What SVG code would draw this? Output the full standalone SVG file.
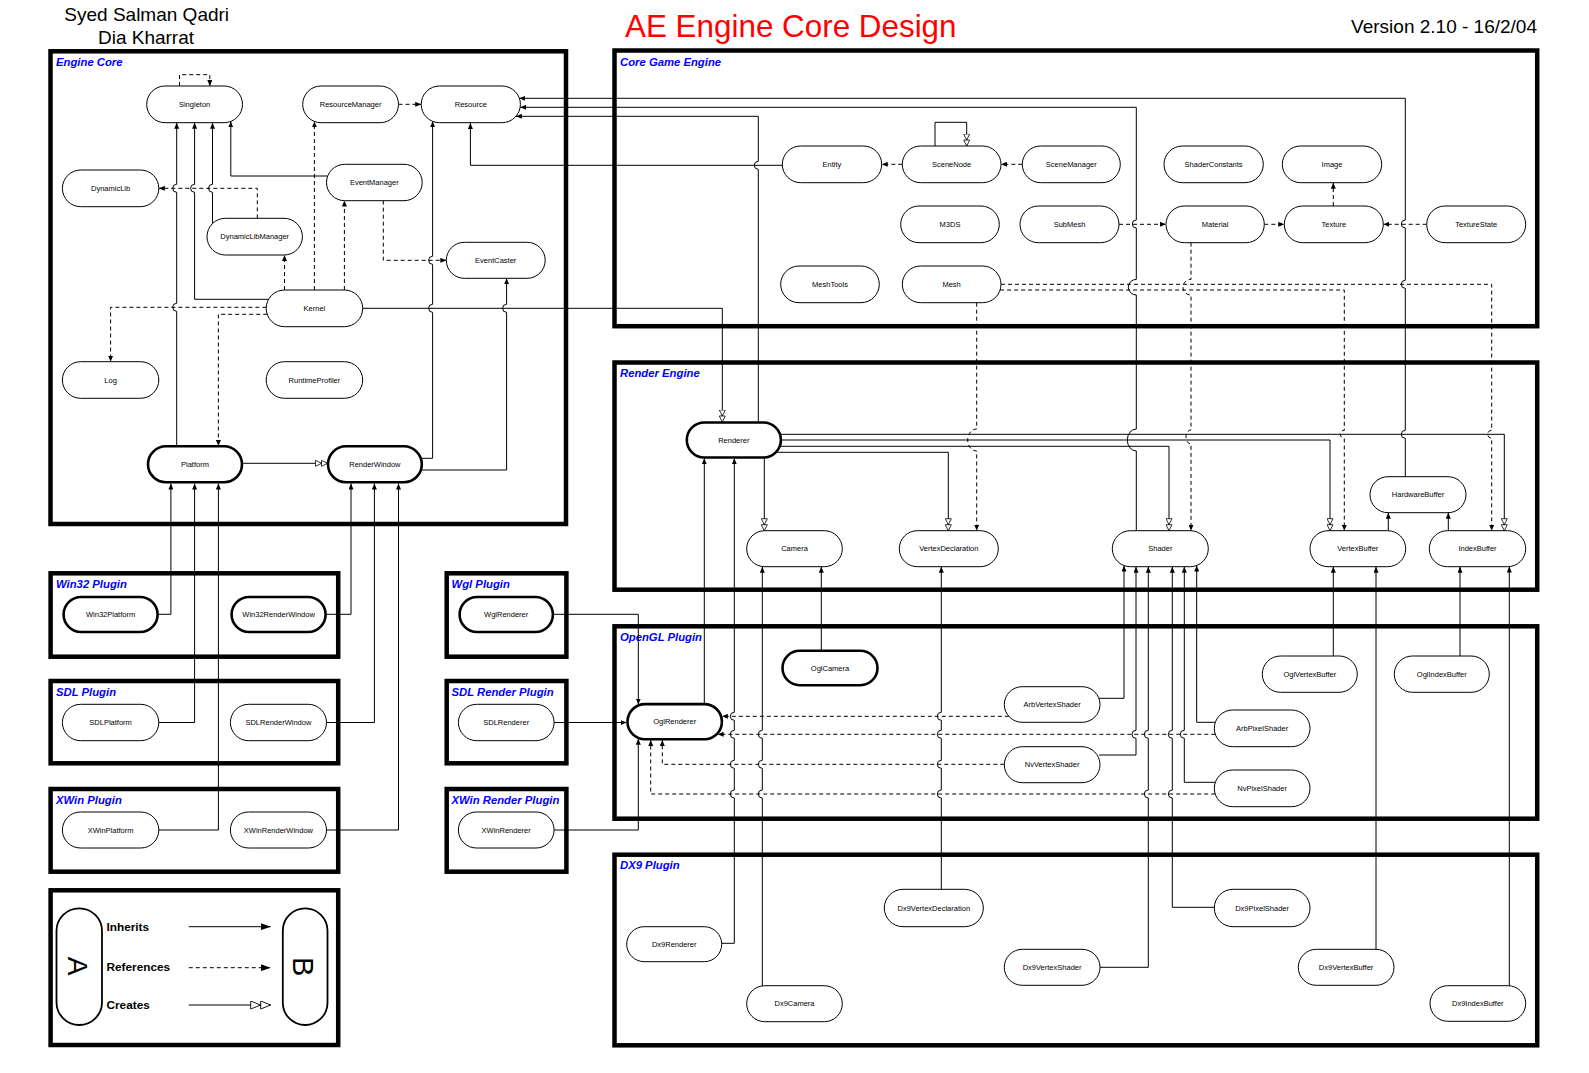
<svg xmlns="http://www.w3.org/2000/svg" width="1589" height="1073" viewBox="0 0 1589 1073">
<style>
.n{fill:#fff;stroke:#000;stroke-width:1}
.nt{fill:#fff;stroke:#000;stroke-width:2.6}
.t{font-family:"Liberation Sans",Arial,sans-serif;font-size:7.5px;text-anchor:middle;fill:#000}
.f{fill:none;stroke:#000;stroke-width:4.5}
.fl{font-family:"Liberation Sans",Arial,sans-serif;font-size:11.3px;font-weight:bold;font-style:italic;fill:#0000ff}
.c{fill:none;stroke:#000;stroke-width:1}
.d{stroke-dasharray:4 3}
.i{marker-end:url(#ah)}
.k{marker-end:url(#cr)}
.lg{font-family:"Liberation Sans",Arial,sans-serif;font-size:11.8px;font-weight:bold;fill:#000}
</style>
<defs>
<marker id="ah" viewBox="0 0 6 5" refX="6" refY="2.5" markerWidth="6" markerHeight="5" markerUnits="userSpaceOnUse" orient="auto"><path d="M0,0L6,2.5L0,5z" fill="#000"/></marker>
<marker id="cr" viewBox="0 0 13 7" refX="12.5" refY="3.5" markerWidth="13" markerHeight="7" markerUnits="userSpaceOnUse" orient="auto"><path d="M0.5,0.5L6.5,3.5L0.5,6.5zM6.5,0.5L12.5,3.5L6.5,6.5z" fill="#fff" stroke="#000" stroke-width="0.8"/></marker>
<marker id="ahL" viewBox="0 0 10 7" refX="10" refY="3.5" markerWidth="10" markerHeight="7" markerUnits="userSpaceOnUse" orient="auto"><path d="M0,0L10,3.5L0,7z" fill="#000"/></marker>
<marker id="crL" viewBox="0 0 21 9" refX="20.5" refY="4.5" markerWidth="21" markerHeight="9" markerUnits="userSpaceOnUse" orient="auto"><path d="M0.5,0.5L10.5,4.5L0.5,8.5zM10.5,0.5L20.5,4.5L10.5,8.5z" fill="#fff" stroke="#000" stroke-width="0.9"/></marker>
</defs>
<rect width="1589" height="1073" fill="#fff"/>

<g id="titles">
<text x="146.7" y="21.3" font-family="Liberation Sans,Arial,sans-serif" font-size="19" text-anchor="middle">Syed Salman Qadri</text>
<text x="146" y="43.5" font-family="Liberation Sans,Arial,sans-serif" font-size="19" text-anchor="middle">Dia Kharrat</text>
<text x="625" y="36.5" font-family="Liberation Sans,Arial,sans-serif" font-size="31.4" fill="#ff0000">AE Engine Core Design</text>
<text x="1537" y="32.5" font-family="Liberation Sans,Arial,sans-serif" font-size="19" text-anchor="end">Version 2.10 - 16/2/04</text>
</g>

<g id="frames">
<rect class="f" x="50.5" y="51.3" width="515.5" height="472.7"/>
<rect class="f" x="614.5" y="50.5" width="922.7" height="275.7"/>
<rect class="f" x="614.5" y="362.5" width="922.7" height="227.2"/>
<rect class="f" x="614.5" y="626.3" width="922.7" height="192.4"/>
<rect class="f" x="614.5" y="854.7" width="922.7" height="190.6"/>
<rect class="f" x="50.6" y="573.3" width="287.6" height="83.4"/>
<rect class="f" x="50.6" y="681" width="287.6" height="82.3"/>
<rect class="f" x="50.6" y="789" width="287.6" height="82.7"/>
<rect class="f" x="446.7" y="573.3" width="119.7" height="83.4"/>
<rect class="f" x="446.7" y="681" width="119.7" height="82.3"/>
<rect class="f" x="446.7" y="789" width="119.7" height="82.7"/>
<rect class="f" x="50.6" y="890.3" width="287.6" height="154.7"/>
<text class="fl" x="56" y="65.8">Engine Core</text>
<text class="fl" x="620" y="65.8">Core Game Engine</text>
<text class="fl" x="620" y="377">Render Engine</text>
<text class="fl" x="620" y="640.8">OpenGL Plugin</text>
<text class="fl" x="620" y="868.8">DX9 Plugin</text>
<text class="fl" x="56" y="587.8">Win32 Plugin</text>
<text class="fl" x="56" y="695.5">SDL Plugin</text>
<text class="fl" x="56" y="803.5">XWin Plugin</text>
<text class="fl" x="451.5" y="587.8">Wgl Plugin</text>
<text class="fl" x="451.5" y="695.5">SDL Render Plugin</text>
<text class="fl" x="451.5" y="803.5">XWin Render Plugin</text>
</g>

<g id="connectors">
<!-- Engine core -->
<path class="c d i" d="M179.5,86V74.7H209.8V86"/>
<path class="c d i" d="M398.5,104.3H421.2"/>
<path class="c i" d="M1405.3,476.7V438.3A4,4 0 0 1 1405.3,430.3V288.3A4,4 0 0 1 1405.3,280.3V228A4,4 0 0 1 1405.3,220V98.3H519.4"/>
<path class="c i" d="M1136.3,530.7V451A9,11 0 0 1 1136.3,429V295A8,7.8 0 0 1 1136.3,279.4V228A4,4 0 0 1 1136.3,220V107.3H520.1"/>
<path class="c i" d="M758.3,421.7V169.3A4,4 0 0 1 758.3,161.3V116.3H515.9"/>
<path class="c i" d="M782.3,165.3H470.4V123"/>
<path class="c i" d="M176.7,445V311.3A4,4 0 0 1 176.7,303.3V192.3A4,4 0 0 1 176.7,184.3V122.7"/>
<path class="c i" d="M268.6,299.3H194.6V192.3A4,4 0 0 1 194.6,184.3V122.7"/>
<path class="c i" d="M212.5,223.6V192.3A4,4 0 0 1 212.5,184.3V122.7"/>
<path class="c i" d="M327.7,176H230.8V121.4"/>
<path class="c d i" d="M257.3,218.3V188.3H158.8"/>
<path class="c d i" d="M284.5,290V255"/>
<path class="c d i" d="M314.4,290V121.4"/>
<path class="c d i" d="M344.4,290V200.6"/>
<path class="c d i" d="M383.3,200.7V260.3H446.3"/>
<path class="c i" d="M422,458.3H432.6V312.3A4,4 0 0 1 432.6,304.3V264.3A4,4 0 0 1 432.6,256.3V121.3"/>
<path class="c i" d="M422,470H506.6V312.3A4,4 0 0 1 506.6,304.3V278.3"/>
<path class="c d i" d="M266.4,307.3H110.6V361.7"/>
<path class="c d i" d="M267.2,314.3H218.4V446"/>
<path class="c k" d="M243.2,463.3H327.5"/>
<path class="c k" d="M362.7,308.3H722.3V422"/>
<!-- platform plugins -->
<path class="c i" d="M157.6,614.3H170.9V483.5"/>
<path class="c i" d="M158.8,722.5H194.6V483.5"/>
<path class="c i" d="M158.8,830H218.4V483.5"/>
<path class="c i" d="M325.6,614.3H351V483.5"/>
<path class="c i" d="M326.5,722.5H374.4V483.5"/>
<path class="c i" d="M326.5,830H398.5V483.5"/>
<path class="c i" d="M541,614.3H638.3V704.6"/>
<path class="c i" d="M554.1,722.5H626.7"/>
<path class="c i" d="M554.1,830H638.3V738.8"/>
<!-- core game engine -->
<path class="c d i" d="M902.3,164.3H881.7"/>
<path class="c d i" d="M1022.3,164.3H1001"/>
<path class="c k" d="M935,146V122.3H966.7V146"/>
<path class="c d i" d="M1119,224.3H1166"/>
<path class="c d i" d="M1264.3,224.3H1284.3"/>
<path class="c d i" d="M1333.3,206V182.7"/>
<path class="c d i" d="M1426.7,224.3H1383.3"/>
<path class="c d i" d="M1001,284.3H1491.7V430.3A4,4 0 0 0 1491.7,438.3V530.7"/>
<path class="c d i" d="M1000.1,290H1344.3V430.3A4,4 0 0 0 1344.3,438.3V530.7"/>
<path class="c d i" d="M976.7,302.7V429A9,11 0 0 0 976.7,451V530.7"/>
<path class="c d i" d="M1191,242.7V279.4A8,7.8 0 0 0 1191,295V430A5,7 0 0 0 1191,444V530.8"/>
<!-- render engine -->
<path class="c k" d="M764.3,458.3V530.7"/>
<path class="c k" d="M776.9,452.3H948.3V530.7"/>
<path class="c k" d="M780.6,446.3H1169V530.7"/>
<path class="c k" d="M781.7,440H1330V530.7"/>
<path class="c k" d="M780.8,434.3H1504.3V530.7"/>
<path class="c i" d="M1388.3,530.7V512.7"/>
<path class="c i" d="M1448.3,530.7V512.7"/>
<!-- opengl / dx9 -->
<path class="c i" d="M704.3,703.3V458.3"/>
<path class="c i" d="M721.7,943.3H734.3V798A4,4 0 0 1 734.3,790V768.3A4,4 0 0 1 734.3,760.3V738.3A4,4 0 0 1 734.3,730.3V720.3A4,4 0 0 1 734.3,712.3V458.3"/>
<path class="c i" d="M762.3,985.9V798A4,4 0 0 1 762.3,790V768.3A4,4 0 0 1 762.3,760.3V738.3A4,4 0 0 1 762.3,730.3V566.8"/>
<path class="c i" d="M821.3,650V566.7"/>
<path class="c i" d="M941.3,889.3V798A4,4 0 0 1 941.3,790V768.3A4,4 0 0 1 941.3,760.3V738.3A4,4 0 0 1 941.3,730.3V720.3A4,4 0 0 1 941.3,712.3V566.7"/>
<path class="c i" d="M1098.9,698.3H1124V565.6"/>
<path class="c i" d="M1099,755H1136V738.3A4,4 0 0 1 1136,730.3V566.7"/>
<path class="c i" d="M1100,967.3H1148.3V798A4,4 0 0 1 1148.3,790V738.3A4,4 0 0 1 1148.3,730.3V566.7"/>
<path class="c i" d="M1214.3,907.3H1172.3V798A4,4 0 0 1 1172.3,790V738.3A4,4 0 0 1 1172.3,730.3V566.7"/>
<path class="c i" d="M1215.3,782.3H1184.3V738.3A4,4 0 0 1 1184.3,730.3V566.7"/>
<path class="c i" d="M1215,722.3H1196.7V565.5"/>
<path class="c i" d="M1333.3,656V566.7"/>
<path class="c i" d="M1376,949.3V566.7"/>
<path class="c i" d="M1460,656V566.7"/>
<path class="c i" d="M1509.3,985.8V566.6"/>
<path class="c d i" d="M1008.8,716.3H721.9"/>
<path class="c d i" d="M1215.3,734.3H717.6"/>
<path class="c d i" d="M1004.3,764.3H662.3V740"/>
<path class="c d i" d="M1215.2,794H650.7V740"/>
</g>

<g id="n-Singleton"><rect class="n" x="146.7" y="86" width="95.8" height="36.7" rx="18.35"/><text class="t" x="194.6" y="107">Singleton</text></g>
<g id="n-ResourceManager"><rect class="n" x="302.7" y="86" width="95.8" height="36.7" rx="18.35"/><text class="t" x="350.6" y="107">ResourceManager</text></g>
<g id="n-Resource"><rect class="n" x="421.2" y="86" width="99.2" height="36.7" rx="18.35"/><text class="t" x="470.8" y="107">Resource</text></g>
<g id="n-DynamicLib"><rect class="n" x="62.4" y="170" width="96.4" height="36.7" rx="18.35"/><text class="t" x="110.6" y="191">DynamicLib</text></g>
<g id="n-EventManager"><rect class="n" x="326.5" y="164.3" width="95.7" height="36.4" rx="18.2"/><text class="t" x="374.3" y="185.2">EventManager</text></g>
<g id="n-DynamicLibManager"><rect class="n" x="207" y="218.3" width="95.4" height="36.7" rx="18.35"/><text class="t" x="254.7" y="239.3">DynamicLibManager</text></g>
<g id="n-EventCaster"><rect class="n" x="446.3" y="242.3" width="98.9" height="36" rx="18"/><text class="t" x="495.7" y="263">EventCaster</text></g>
<g id="n-Kernel"><rect class="n" x="266.2" y="290" width="96.5" height="36.7" rx="18.35"/><text class="t" x="314.4" y="311">Kernel</text></g>
<g id="n-Log"><rect class="n" x="62.4" y="361.7" width="96.4" height="36.6" rx="18.3"/><text class="t" x="110.6" y="382.7">Log</text></g>
<g id="n-RuntimeProfiler"><rect class="n" x="266.2" y="361.7" width="96.5" height="36.6" rx="18.3"/><text class="t" x="314.4" y="382.7">RuntimeProfiler</text></g>
<g id="n-Platform"><rect class="nt" x="148" y="446.3" width="94" height="36" rx="18"/><text class="t" x="195" y="467">Platform</text></g>
<g id="n-RenderWindow"><rect class="nt" x="328" y="446.3" width="93.8" height="36" rx="18"/><text class="t" x="374.9" y="467">RenderWindow</text></g>

<g id="n-Win32Platform"><rect class="nt" x="63.6" y="597" width="94" height="35" rx="17.5"/><text class="t" x="110.6" y="617.2">Win32Platform</text></g>
<g id="n-Win32RenderWindow"><rect class="nt" x="231.6" y="597" width="94" height="35" rx="17.5"/><text class="t" x="278.6" y="617.2">Win32RenderWindow</text></g>
<g id="n-SDLPlatform"><rect class="n" x="62.4" y="704.3" width="96.4" height="36.4" rx="18.2"/><text class="t" x="110.6" y="725.2">SDLPlatform</text></g>
<g id="n-SDLRenderWindow"><rect class="n" x="230.4" y="704.3" width="96.1" height="36.4" rx="18.2"/><text class="t" x="278.4" y="725.2">SDLRenderWindow</text></g>
<g id="n-XWinPlatform"><rect class="n" x="62.4" y="812" width="96.4" height="36" rx="18"/><text class="t" x="110.6" y="832.7">XWinPlatform</text></g>
<g id="n-XWinRenderWindow"><rect class="n" x="230.4" y="812" width="96.1" height="36" rx="18"/><text class="t" x="278.4" y="832.7">XWinRenderWindow</text></g>
<g id="n-WglRenderer"><rect class="nt" x="459.6" y="597" width="93.3" height="35" rx="17.5"/><text class="t" x="506.2" y="617.2">WglRenderer</text></g>
<g id="n-SDLRenderer"><rect class="n" x="458.4" y="704.3" width="95.7" height="36.4" rx="18.2"/><text class="t" x="506.2" y="725.2">SDLRenderer</text></g>
<g id="n-XWinRenderer"><rect class="n" x="458.4" y="812" width="95.7" height="36" rx="18"/><text class="t" x="506.2" y="832.7">XWinRenderer</text></g>

<g id="n-Entity"><rect class="n" x="782.3" y="146" width="99.4" height="36.7" rx="18.35"/><text class="t" x="832" y="167">Entity</text></g>
<g id="n-SceneNode"><rect class="n" x="902.3" y="146" width="98.7" height="36.7" rx="18.35"/><text class="t" x="951.6" y="167">SceneNode</text></g>
<g id="n-SceneManager"><rect class="n" x="1022.3" y="146" width="98" height="36.7" rx="18.35"/><text class="t" x="1071.3" y="167">SceneManager</text></g>
<g id="n-ShaderConstants"><rect class="n" x="1164" y="146" width="99.3" height="36.7" rx="18.35"/><text class="t" x="1213.6" y="167">ShaderConstants</text></g>
<g id="n-Image"><rect class="n" x="1282.3" y="146" width="99.4" height="36.7" rx="18.35"/><text class="t" x="1332" y="167">Image</text></g>
<g id="n-M3DS"><rect class="n" x="900.7" y="206" width="98.6" height="36.7" rx="18.35"/><text class="t" x="950" y="227">M3DS</text></g>
<g id="n-SubMesh"><rect class="n" x="1020" y="206" width="99" height="36.7" rx="18.35"/><text class="t" x="1069.5" y="227">SubMesh</text></g>
<g id="n-Material"><rect class="n" x="1166" y="206" width="98.3" height="36.7" rx="18.35"/><text class="t" x="1215.1" y="227">Material</text></g>
<g id="n-Texture"><rect class="n" x="1284.3" y="206" width="99" height="36.7" rx="18.35"/><text class="t" x="1333.8" y="227">Texture</text></g>
<g id="n-TextureState"><rect class="n" x="1426.7" y="206" width="99" height="36.7" rx="18.35"/><text class="t" x="1476.2" y="227">TextureState</text></g>
<g id="n-MeshTools"><rect class="n" x="780.7" y="266" width="98.6" height="36.7" rx="18.35"/><text class="t" x="830" y="287">MeshTools</text></g>
<g id="n-Mesh"><rect class="n" x="902.3" y="266" width="98.7" height="36.7" rx="18.35"/><text class="t" x="951.6" y="287">Mesh</text></g>

<g id="n-Renderer"><rect class="nt" x="686.8" y="422.5" width="94.1" height="35" rx="17.5"/><text class="t" x="733.8" y="442.7">Renderer</text></g>
<g id="n-Camera"><rect class="n" x="746.7" y="530.7" width="95.6" height="36" rx="18"/><text class="t" x="794.5" y="551.4">Camera</text></g>
<g id="n-VertexDeclaration"><rect class="n" x="899.3" y="530.7" width="99" height="36" rx="18"/><text class="t" x="948.8" y="551.4">VertexDeclaration</text></g>
<g id="n-Shader"><rect class="n" x="1112.3" y="530.7" width="96" height="36" rx="18"/><text class="t" x="1160.3" y="551.4">Shader</text></g>
<g id="n-VertexBuffer"><rect class="n" x="1310" y="530.7" width="95.7" height="36" rx="18"/><text class="t" x="1357.8" y="551.4">VertexBuffer</text></g>
<g id="n-IndexBuffer"><rect class="n" x="1429.3" y="530.7" width="96.4" height="36" rx="18"/><text class="t" x="1477.5" y="551.4">IndexBuffer</text></g>
<g id="n-HardwareBuffer"><rect class="n" x="1370" y="476.7" width="96" height="36" rx="18"/><text class="t" x="1418" y="497.4">HardwareBuffer</text></g>

<g id="n-OglRenderer"><rect class="nt" x="627.5" y="704.1" width="94.4" height="35.1" rx="17.5"/><text class="t" x="674.7" y="724.4">OglRenderer</text></g>
<g id="n-OglCamera"><rect class="nt" x="782.5" y="650.8" width="95" height="34.4" rx="17.2"/><text class="t" x="830" y="670.7">OglCamera</text></g>
<g id="n-OglVertexBuffer"><rect class="n" x="1262.3" y="656" width="95" height="36.3" rx="18.15"/><text class="t" x="1309.8" y="676.9">OglVertexBuffer</text></g>
<g id="n-OglIndexBuffer"><rect class="n" x="1394.3" y="656" width="95" height="36.3" rx="18.15"/><text class="t" x="1441.8" y="676.9">OglIndexBuffer</text></g>
<g id="n-ArbVertexShader"><rect class="n" x="1004.3" y="686.7" width="95.7" height="35.6" rx="17.8"/><text class="t" x="1052.1" y="707.2">ArbVertexShader</text></g>
<g id="n-ArbPixelShader"><rect class="n" x="1214.3" y="710" width="95.7" height="36.7" rx="18.35"/><text class="t" x="1262.1" y="731">ArbPixelShader</text></g>
<g id="n-NvVertexShader"><rect class="n" x="1004.3" y="746.7" width="95.7" height="36" rx="18"/><text class="t" x="1052.1" y="767.4">NvVertexShader</text></g>
<g id="n-NvPixelShader"><rect class="n" x="1214.3" y="770" width="95.7" height="36.7" rx="18.35"/><text class="t" x="1262.1" y="791">NvPixelShader</text></g>

<g id="n-Dx9Renderer"><rect class="n" x="626.7" y="926.7" width="95" height="35" rx="17.5"/><text class="t" x="674.2" y="946.9">Dx9Renderer</text></g>
<g id="n-Dx9Camera"><rect class="n" x="746.7" y="985.7" width="95.6" height="36" rx="18"/><text class="t" x="794.5" y="1006.4">Dx9Camera</text></g>
<g id="n-Dx9VertexDeclaration"><rect class="n" x="884.3" y="889.3" width="99" height="37.4" rx="18.7"/><text class="t" x="933.8" y="910.7">Dx9VertexDeclaration</text></g>
<g id="n-Dx9VertexShader"><rect class="n" x="1004.3" y="949.3" width="95.7" height="36" rx="18"/><text class="t" x="1052.1" y="970">Dx9VertexShader</text></g>
<g id="n-Dx9PixelShader"><rect class="n" x="1214.3" y="889.3" width="95.7" height="37.4" rx="18.7"/><text class="t" x="1262.1" y="910.7">Dx9PixelShader</text></g>
<g id="n-Dx9VertexBuffer"><rect class="n" x="1298.3" y="949.3" width="95.7" height="36" rx="18"/><text class="t" x="1346.1" y="970">Dx9VertexBuffer</text></g>
<g id="n-Dx9IndexBuffer"><rect class="n" x="1430" y="985.7" width="95.7" height="35.6" rx="17.8"/><text class="t" x="1477.8" y="1006.2">Dx9IndexBuffer</text></g>

<g id="legend">
<rect x="56.5" y="908.3" width="45.5" height="116.7" rx="22.75" fill="#fff" stroke="#000" stroke-width="1.8"/>
<rect x="282.8" y="908.3" width="44.7" height="116.7" rx="22.35" fill="#fff" stroke="#000" stroke-width="1.8"/>
<text x="77.5" y="976" font-family="Liberation Sans,Arial,sans-serif" font-size="28" text-anchor="middle" transform="rotate(90 77.5 966)">A</text>
<text x="303.4" y="977" font-family="Liberation Sans,Arial,sans-serif" font-size="29" text-anchor="middle" transform="rotate(90 303.4 966.7)">B</text>
<text class="lg" x="106.5" y="930.5">Inherits</text>
<text class="lg" x="106.5" y="970.5">References</text>
<text class="lg" x="106.5" y="1008.5">Creates</text>
<path class="c" d="M188.8,926.7H270.7" marker-end="url(#ahL)"/>
<path class="c d" d="M188.8,967.7H270.7" marker-end="url(#ahL)"/>
<path class="c" d="M188.8,1005H270.7" marker-end="url(#crL)"/>
</g>
</svg>
